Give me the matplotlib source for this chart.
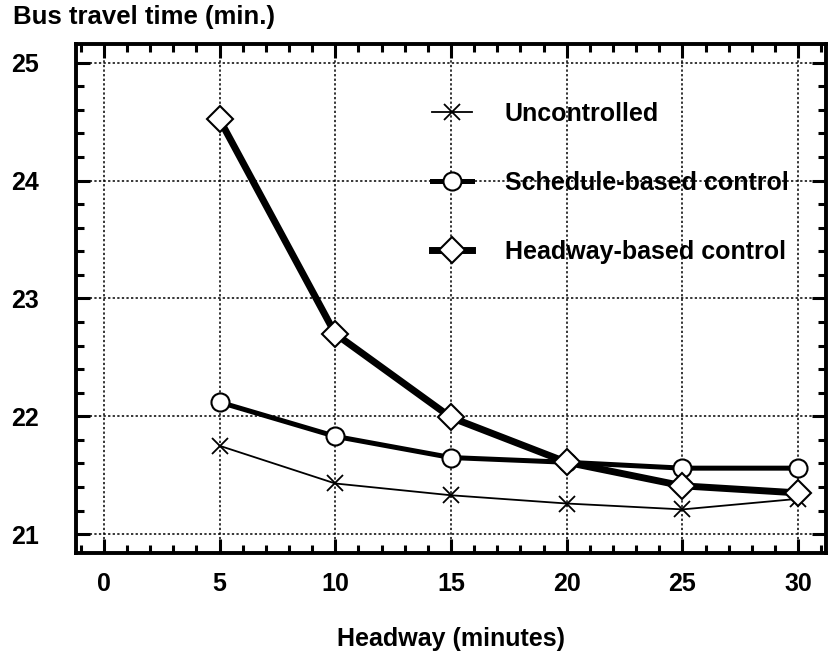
import numpy as np
import matplotlib.pyplot as plt
from matplotlib.ticker import MultipleLocator

plt.rcParams['font.family'] = ['Liberation Sans', 'DejaVu Sans']

headway = [5, 10, 15, 20, 25, 30]
uncontrolled = [21.75, 21.43, 21.33, 21.26, 21.21, 21.30]
schedule_based = [22.12, 21.83, 21.65, 21.61, 21.56, 21.56]
headway_based = [24.52, 22.70, 21.99, 21.61, 21.41, 21.35]

series_labels = ['Uncontrolled', 'Schedule-based control', 'Headway-based control']

fig = plt.figure(figsize=(8.29, 6.65), dpi=100)
ax = fig.add_axes([0.0917, 0.1684, 0.9047, 0.7656])

ax.plot(headway, uncontrolled, color='black', lw=1.3, marker='x', ms=12,
        mew=1.3, label=series_labels[0], zorder=3)
ax.plot(headway, schedule_based, color='black', lw=3.6, marker='o', ms=13,
        mfc='white', mec='black', mew=1.5, label=series_labels[1], zorder=3)
ax.plot(headway, headway_based, color='black', lw=5, marker='D', ms=13,
        mfc='white', mec='black', mew=1.5, label=series_labels[2], zorder=4)

ax.set_xlim(-1.2, 31.2)
ax.set_ylim(20.84, 25.16)
ax.xaxis.set_major_locator(MultipleLocator(5))
ax.xaxis.set_minor_locator(MultipleLocator(1))
ax.yaxis.set_major_locator(MultipleLocator(1))
ax.yaxis.set_minor_locator(MultipleLocator(0.2))

# dotted grid on major ticks, inward ticks on all four sides
ax.grid(True, which='major', color='black', linestyle=(0, (1.5, 1.5)), lw=1.1)
ax.tick_params(which='both', direction='in', top=True, right=True,
               width=2.2, labelsize=18)
ax.tick_params(which='major', length=10)
ax.tick_params(which='minor', length=6)
ax.tick_params(axis='x', pad=14)
ax.tick_params(axis='y', pad=27)
for lab in ax.get_xticklabels() + ax.get_yticklabels():
    lab.set_fontweight('bold')
for sp in ax.spines.values():
    sp.set_linewidth(2.8)

fig.text(0.016, 0.974, 'Bus travel time (min.)', fontsize=18.5, fontweight='bold',
         va='center', ha='left')
ax.set_xlabel('Headway (minutes)', fontsize=18, fontweight='bold', labelpad=22)

leg = ax.legend(loc='upper left', bbox_to_anchor=(0.445, 0.93), frameon=False,
                handlelength=1.6, handletextpad=1.3, labelspacing=1.8,
                prop={'weight': 'bold', 'size': 18})

fig.savefig('out.png', dpi=100)
